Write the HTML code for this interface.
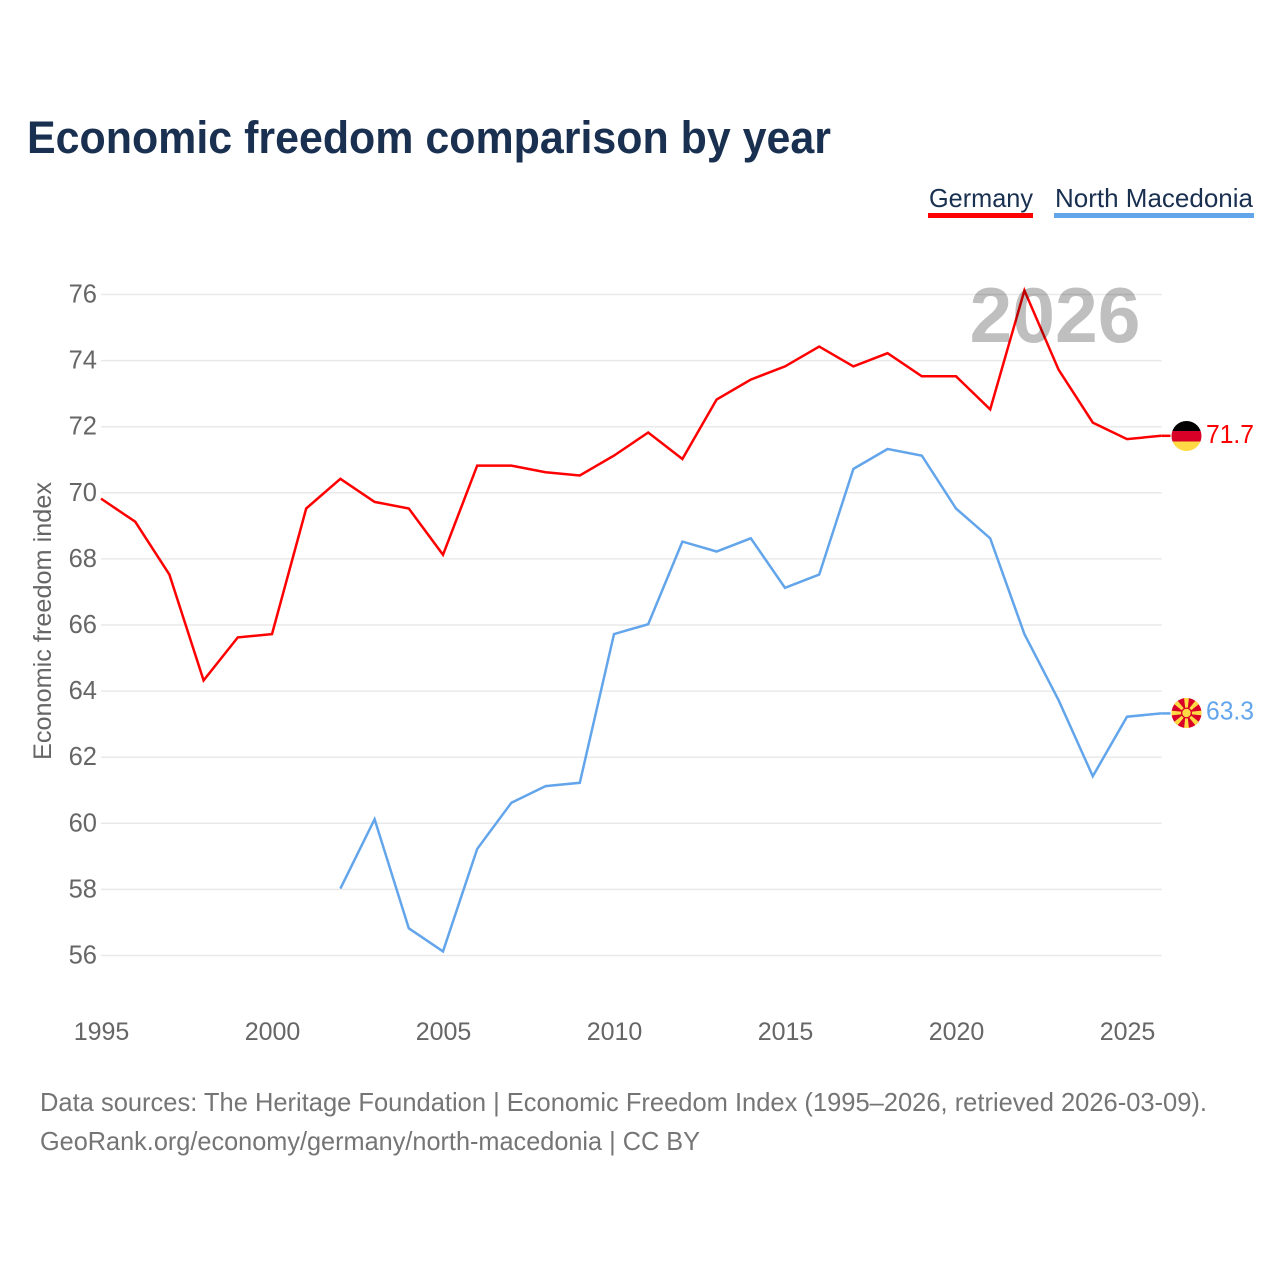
<!DOCTYPE html>
<html lang="en">
<head>
<meta charset="utf-8">
<title>Economic freedom comparison by year</title>
<style>
html,body{margin:0;padding:0;background:#fff;width:1280px;height:1280px;overflow:hidden}
svg{display:block}
text{font-family:"Liberation Sans",sans-serif}
</style>
</head>
<body>
<svg id="chart" width="1280" height="1280" viewBox="0 0 1280 1280" xmlns="http://www.w3.org/2000/svg">
  <text x="27" y="153" font-size="45" font-weight="700" fill="#1a3050" textLength="804" lengthAdjust="spacingAndGlyphs">Economic freedom comparison by year</text>

  <g>
    <g>
      <text x="929" y="207" font-size="26" fill="#1a3050" textLength="104" lengthAdjust="spacingAndGlyphs">Germany</text>
      <rect x="928" y="213" width="105" height="5" fill="#ff0000"/>
    </g>
    <g>
      <text x="1055" y="207" font-size="26" fill="#1a3050" textLength="198" lengthAdjust="spacingAndGlyphs">North Macedonia</text>
      <rect x="1054" y="213" width="200" height="5" fill="#63a5eb"/>
    </g>
  </g>

  <g id="grid"></g>
  <g id="yticks"></g>
  <g id="xticks"></g>

  <text transform="translate(51,621) rotate(-90)" text-anchor="middle" font-size="25" fill="#666666" textLength="278" lengthAdjust="spacingAndGlyphs">Economic freedom index</text>

  <g id="series" transform="translate(-0.5,-0.8)"></g>

  <text x="1055" y="342" text-anchor="middle" font-size="78" font-weight="700" fill="#000000" fill-opacity="0.25" textLength="171" lengthAdjust="spacingAndGlyphs">2026</text>

  <g id="flag-germany">
    <clipPath id="clip-de"><circle cx="1186.5" cy="436" r="15"/></clipPath>
    <g clip-path="url(#clip-de)">
      <rect x="1171" y="420" width="31" height="11" fill="#000000"/>
      <rect x="1171" y="431" width="31" height="10.5" fill="#d80027"/>
      <rect x="1171" y="441.5" width="31" height="11" fill="#ffda44"/>
    </g>
  </g>
  <g id="flag-mk" transform="translate(1186.5,713)">
    <circle r="15" fill="#d80027"/>
    <g fill="#ffda44">
      <polygon points="-0.8,0 0.8,0 2.4,-15 -2.4,-15"/>
      <polygon points="-0.8,0 0.8,0 2.4,-15 -2.4,-15" transform="rotate(45)"/>
      <polygon points="-0.8,0 0.8,0 2.4,-15 -2.4,-15" transform="rotate(90)"/>
      <polygon points="-0.8,0 0.8,0 2.4,-15 -2.4,-15" transform="rotate(135)"/>
      <polygon points="-0.8,0 0.8,0 2.4,-15 -2.4,-15" transform="rotate(180)"/>
      <polygon points="-0.8,0 0.8,0 2.4,-15 -2.4,-15" transform="rotate(225)"/>
      <polygon points="-0.8,0 0.8,0 2.4,-15 -2.4,-15" transform="rotate(270)"/>
      <polygon points="-0.8,0 0.8,0 2.4,-15 -2.4,-15" transform="rotate(315)"/>
    </g>
    <circle r="5.5" fill="#d80027"/>
    <circle r="4.2" fill="#ffda44"/>
  </g>

  <g id="endlabels"></g>

  <g>
    <text x="40" y="1111" font-size="26" fill="#757575" textLength="1167" lengthAdjust="spacingAndGlyphs">Data sources: The Heritage Foundation | Economic Freedom Index (1995–2026, retrieved 2026-03-09).</text>
    <text x="40" y="1150" font-size="26" fill="#757575" textLength="660" lengthAdjust="spacingAndGlyphs">GeoRank.org/economy/germany/north-macedonia | CC BY</text>
  </g>
</svg>
<script>
const years = [1995,1996,1997,1998,1999,2000,2001,2002,2003,2004,2005,2006,2007,2008,2009,2010,2011,2012,2013,2014,2015,2016,2017,2018,2019,2020,2021,2022,2023,2024,2025,2026];
const germanyValues = [69.8,69.1,67.5,64.3,65.6,65.7,69.5,70.4,69.7,69.5,68.1,70.8,70.8,70.6,70.5,71.1,71.8,71.0,72.8,73.4,73.8,74.4,73.8,74.2,73.5,73.5,72.5,76.1,73.7,72.1,71.6,71.7];
const macedoniaValues = [null,null,null,null,null,null,null,58.0,60.1,56.8,56.1,59.2,60.6,61.1,61.2,65.7,66.0,68.5,68.2,68.6,67.1,67.5,70.7,71.3,71.1,69.5,68.6,65.7,63.7,61.4,63.2,63.3];
const yTickLabels = [56,58,60,62,64,66,68,70,72,74,76];
const xTickLabels = [1995,2000,2005,2010,2015,2020,2025];

const NS = 'http://www.w3.org/2000/svg';
const xScale = function (year) { return 101.5 + (year - 1995) * 34.2; };
const yScale = function (value) { return 294.5 + (76 - value) * 33.05; };
const plotRight = xScale(2026);

function make(tag, attrs, parent) {
  const el = document.createElementNS(NS, tag);
  Object.keys(attrs).forEach(function (k) { el.setAttribute(k, attrs[k]); });
  parent.appendChild(el);
  return el;
}

const gridGroup = document.getElementById('grid');
const yGroup = document.getElementById('yticks');
const xGroup = document.getElementById('xticks');
const seriesGroup = document.getElementById('series');
const endGroup = document.getElementById('endlabels');

yTickLabels.forEach(function (v) {
  const line = make('line', {x1: 101, x2: plotRight, y1: yScale(v), y2: yScale(v), stroke: '#e9e9e9', 'stroke-width': 1.5}, gridGroup);
  
  
  const label = make('text', {x: 97, y: yScale(v) + 8, 'text-anchor': 'end', 'font-size': 25.5, fill: '#666666'}, yGroup);
  label.textContent = v;
  
  
});

xTickLabels.forEach(function (y) {
  const label = make('text', {x: xScale(y), y: 1040, 'text-anchor': 'middle', 'font-size': 25, fill: '#666666'}, xGroup);
  label.textContent = y;
  
  
});

function buildPoints(values) {
  const pts = [];
  values.forEach(function (v, i) {
    if (v !== null) { pts.push(xScale(years[i]).toFixed(1) + ',' + yScale(v).toFixed(1)); }
  });
  return pts.join(' ');
}

function lastOf(values) { return values[values.length - 1]; }

const germanyLine = make('polyline', {points: buildPoints(germanyValues), fill: 'none', stroke: '#ff0000', 'stroke-width': 2.5, 'stroke-linejoin': 'miter'}, seriesGroup);



const macedoniaLine = make('polyline', {points: buildPoints(macedoniaValues), fill: 'none', stroke: '#63a5eb', 'stroke-width': 2.5, 'stroke-linejoin': 'miter'}, seriesGroup);



const germanyConnector = make('line', {x1: plotRight, x2: 1171, y1: yScale(lastOf(germanyValues)), y2: yScale(lastOf(germanyValues)), stroke: '#ff0000', 'stroke-width': 2.5}, seriesGroup);



const macedoniaConnector = make('line', {x1: plotRight, x2: 1171, y1: yScale(lastOf(macedoniaValues)), y2: yScale(lastOf(macedoniaValues)), stroke: '#63a5eb', 'stroke-width': 2.5}, seriesGroup);



const germanyEnd = make('text', {x: 1206, y: yScale(lastOf(germanyValues)) + 6.5, 'font-size': 26, fill: '#ff0000', textLength: 48, lengthAdjust: 'spacingAndGlyphs'}, endGroup);
germanyEnd.textContent = lastOf(germanyValues).toFixed(1);



const macedoniaEnd = make('text', {x: 1206, y: yScale(lastOf(macedoniaValues)) + 5.5, 'font-size': 26, fill: '#63a5eb', textLength: 48, lengthAdjust: 'spacingAndGlyphs'}, endGroup);
macedoniaEnd.textContent = lastOf(macedoniaValues).toFixed(1);


</script>
</body>
</html>
